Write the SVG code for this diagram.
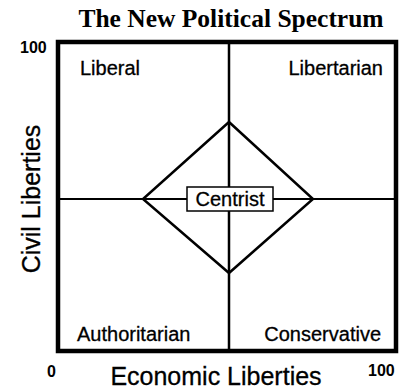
<svg xmlns="http://www.w3.org/2000/svg" width="408" height="392" viewBox="0 0 408 392">
<style>
.ln{fill:none;stroke:#000;stroke-linecap:square;stroke-linejoin:miter}
.lbl{font-family:"Liberation Sans",Arial,sans-serif;font-size:20px;fill:#000;stroke:#000;stroke-width:0.3}
.num{font-family:"Liberation Sans",Arial,sans-serif;font-size:16px;font-weight:bold;fill:#000}
.axis{font-family:"Liberation Sans",Arial,sans-serif;font-size:25px;fill:#000;stroke:#000;stroke-width:0.3}
</style>
<rect width="408" height="392" fill="#fff"/>
<text x="231" y="27" text-anchor="middle" font-family="'Liberation Serif','Times New Roman',serif" font-size="25.5" font-weight="bold">The New Political Spectrum</text>
<g id="connectors">
<rect class="ln" x="58" y="42" width="338" height="309" stroke-width="4.5"/>
<line class="ln" x1="229" y1="42" x2="229" y2="351" stroke-width="2.5"/>
<line class="ln" x1="58" y1="199" x2="396" y2="199" stroke-width="2"/>
<polygon class="ln" points="229,122 313,199 229,273 143,199" stroke-width="2.5"/>
</g>
<g id="liberal"><text class="lbl" x="80" y="75">Liberal</text></g>
<g id="libertarian"><text class="lbl" x="383" y="75" text-anchor="end">Libertarian</text></g>
<g id="authoritarian"><text class="lbl" x="77" y="341">Authoritarian</text></g>
<g id="conservative"><text class="lbl" x="381" y="341" text-anchor="end">Conservative</text></g>
<g id="centrist">
<rect x="187" y="187" width="86" height="24" fill="#fff" stroke="#000" stroke-width="1.5"/>
<text class="lbl" x="230" y="206" text-anchor="middle" font-size="17.5">Centrist</text>
</g>
<g id="axes">
<text class="num" x="20" y="53">100</text>
<text class="num" x="47" y="377">0</text>
<text class="num" x="368" y="376">100</text>
<text class="axis" x="216" y="385" text-anchor="middle">Economic Liberties</text>
<text class="axis" transform="translate(40,199) rotate(-90)" text-anchor="middle" font-size="27">Civil Liberties</text>
</g>
</svg>
